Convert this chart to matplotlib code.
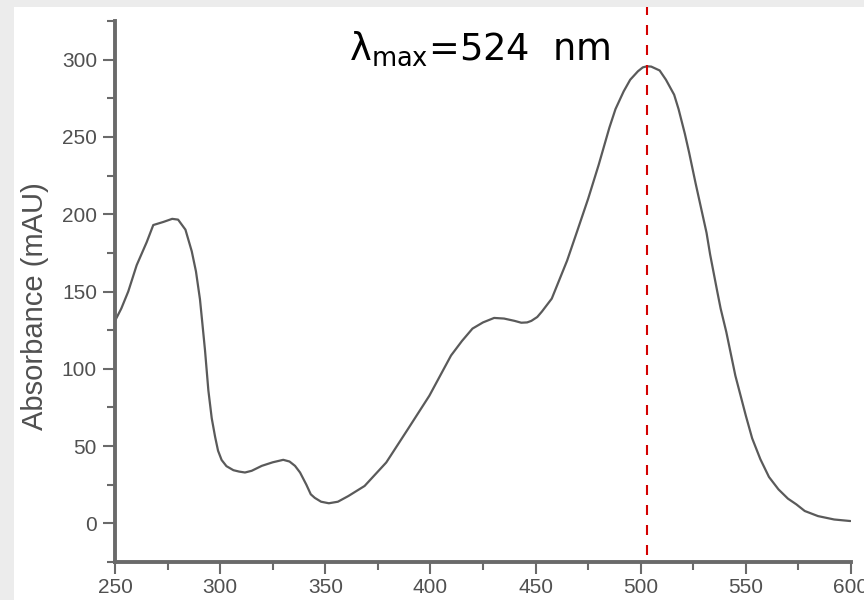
import matplotlib
matplotlib.use('Agg')
import matplotlib.pyplot as plt
from matplotlib.patches import Rectangle
from matplotlib.ticker import MultipleLocator

# Spectrum (nm, mAU)
wavelength = [250, 253, 256.3, 260.3, 265.1, 268.2, 273, 277.2, 280, 283.5, 286.5, 288.5,
              290.4, 291.5, 292.8, 294.4, 296, 297.6, 299, 300.7, 303, 306.3, 309, 311.8,
              315, 319.8, 325, 330, 333, 335.6, 338, 341, 343.1, 345, 348, 351.7, 356,
              361, 368.7, 379, 389.3, 399.5, 409.8, 415, 420, 425, 430.3, 435, 440,
              443.2, 446, 448, 450.8, 453, 457.7, 465, 469.7, 475, 480, 485.1, 488,
              491.9, 495, 498.7, 501, 503, 505, 509, 512, 515.9, 518, 521, 523, 526.1,
              531.3, 533, 536.4, 538, 540.7, 545, 548, 550, 553, 556.9, 561, 565.5,
              570, 574, 578, 584.3, 592, 599.7]
absorbance = [131, 139, 150, 167, 182, 193, 195, 197, 196.5, 190, 176, 163,
              145, 130, 112, 86, 68, 56, 47, 41, 37, 34.4, 33.5, 32.9,
              34, 37.2, 39.5, 41.1, 40, 37.2, 32.9, 25, 18.8, 16.5, 14, 13, 14,
              17.7, 24.2, 39.4, 61, 82.6, 108.6, 118, 126, 130, 132.9, 132.5, 131,
              129.8, 130, 131, 133.5, 137, 145.4, 170, 188.7, 210, 231.9, 256, 268,
              279.5, 287, 292.5, 295, 295.7, 295.5, 293, 287, 277.3, 268, 252, 240, 220,
              188, 174, 150, 139, 123.8, 95.6, 80, 69.6, 55, 41.5, 30, 22,
              16, 12.3, 8, 4.7, 2.5, 1.5]

peak_line = 503
peak_label = r'$\mathrm{\lambda}_{\mathrm{max}}$=524  nm'
y_label = 'Absorbance (mAU)'

fig = plt.figure(figsize=(8.64, 6), dpi=100, facecolor='#ececec')
# white panel behind the plot
fig.patches.append(Rectangle((14 / 864, 0), 1 - 14 / 864, 1 - 7 / 600,
                             transform=fig.transFigure, facecolor='white',
                             edgecolor='none', zorder=-10))
ax = fig.add_axes([115 / 864, 1 - 562 / 600, (851 - 115) / 864, (562 - 21) / 600])
ax.set_facecolor('none')
ax.set_zorder(5)

ax.plot(wavelength, absorbance, color='#5a5a5a', lw=1.6,
        solid_joinstyle='round', solid_capstyle='round')
ax.axvline(peak_line, ymin=0.013, ymax=1.026, color='#d40000', lw=1.5,
           dashes=(4.8, 4.8), clip_on=False)

ax.set_xlim(250, 600)
ax.set_ylim(-25, 325)
ax.xaxis.set_major_locator(MultipleLocator(50))
ax.xaxis.set_minor_locator(MultipleLocator(25))
ax.yaxis.set_major_locator(MultipleLocator(50))
ax.yaxis.set_minor_locator(MultipleLocator(25))

for side in ['top', 'right']:
    ax.spines[side].set_visible(False)
for side in ['left', 'bottom']:
    ax.spines[side].set_linewidth(2.8)
    ax.spines[side].set_color('#6a6a6a')

ax.tick_params(which='major', length=8.5, width=1.5, color='#6a6a6a',
               labelsize=15, labelcolor='#505050', labelfontfamily='Liberation Sans')
ax.tick_params(which='minor', length=5.5, width=1.5, color='#6a6a6a')
ax.tick_params(axis='x', which='major', pad=3)
ax.tick_params(axis='y', which='major', pad=4.5)

fig.text(35 / 864, 1 - 306 / 600, y_label, rotation=90, ha='center', va='center',
         fontsize=21, color='#505050', family='Liberation Sans')

ax.text(0.318, 0.928, peak_label, transform=ax.transAxes, fontsize=26.5,
        ha='left', va='baseline', color='black', family='DejaVu Sans')

fig.savefig('out.png', dpi=100, facecolor=fig.get_facecolor())
